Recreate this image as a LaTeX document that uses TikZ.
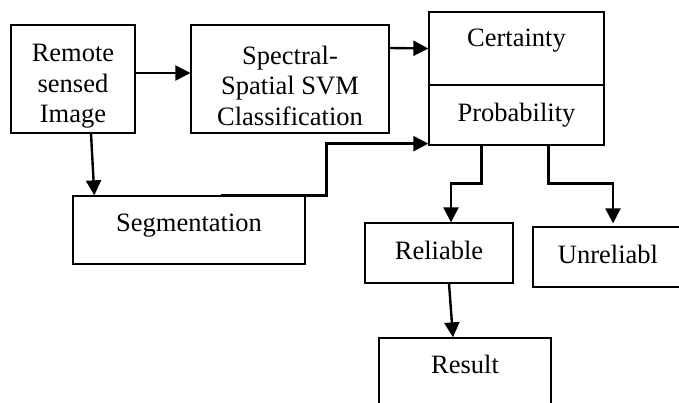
\documentclass[tikz,border=0pt]{standalone}
\usepackage{fontspec}
\setmainfont{Liberation Serif}
\usetikzlibrary{arrows.meta}

\begin{document}
\begin{tikzpicture}[x=1pt,y=-1pt,
  box/.style={draw,line width=1.3pt,inner sep=0pt,align=center,font=\fontsize{26.5}{30.5}\selectfont},
  conn/.style={line width=2.4pt,-{Triangle[length=15pt,width=15pt]}}]
\useasboundingbox (0,0) rectangle (679,403);
\clip (0,0) rectangle (679,403);

% to write the boxes
\node [box,minimum width=124pt,minimum height=108pt] (remote) at (73,79) {\rule{0pt}{32pt}Remote\\sensed\\Image};
\node [box,minimum width=198pt,minimum height=108pt] (spec) at (290,79) {\rule{0pt}{32pt}Spectral-\\Spatial SVM\\Classification};
\node [box,minimum width=175pt,minimum height=73pt,text depth=21pt] (cert) at (516.5,48.5) {Certainty};
\node [box,minimum width=175pt,minimum height=60pt,text depth=6pt] (prob) at (516.5,115) {Probability};
\node [box,minimum width=232pt,minimum height=68pt,text depth=14pt] (seg) at (189,230) {Segmentation};
\node [box,minimum width=148pt,minimum height=60pt,text depth=6pt] (rel) at (439,253) {Reliable};
\node [box,minimum width=150pt,minimum height=60pt,text depth=6pt] (unrel) at (608,257) {Unreliabl};
\node [box,minimum width=172pt,minimum height=77pt,text depth=25pt] (result) at (465,376.5) {Result};

% to draw arrows
\draw [conn] ([yshift=6pt]remote.east) -- ([yshift=6pt]spec.west);
\draw [conn] ([yshift=31pt]spec.east) -- (cert.west);
\draw [conn] ([xshift=18pt]remote.south) -- ([xshift=22pt]seg.north west);
\draw [conn] ([xshift=-85pt]seg.north east) -- ([xshift=21pt]seg.north east) |- ([yshift=2pt]prob.south west);
\draw [conn] ([xshift=53pt]prob.south west) -- ++(0,38) -| ([xshift=12pt]rel.north);
\draw [conn] ([xshift=120pt]prob.south west) -- ++(0,38) -| ([xshift=5pt,yshift=3pt]unrel.north);
\draw [conn] ([xshift=10pt]rel.south) -- ([xshift=-12pt]result.north);
\end{tikzpicture}
\end{document}
